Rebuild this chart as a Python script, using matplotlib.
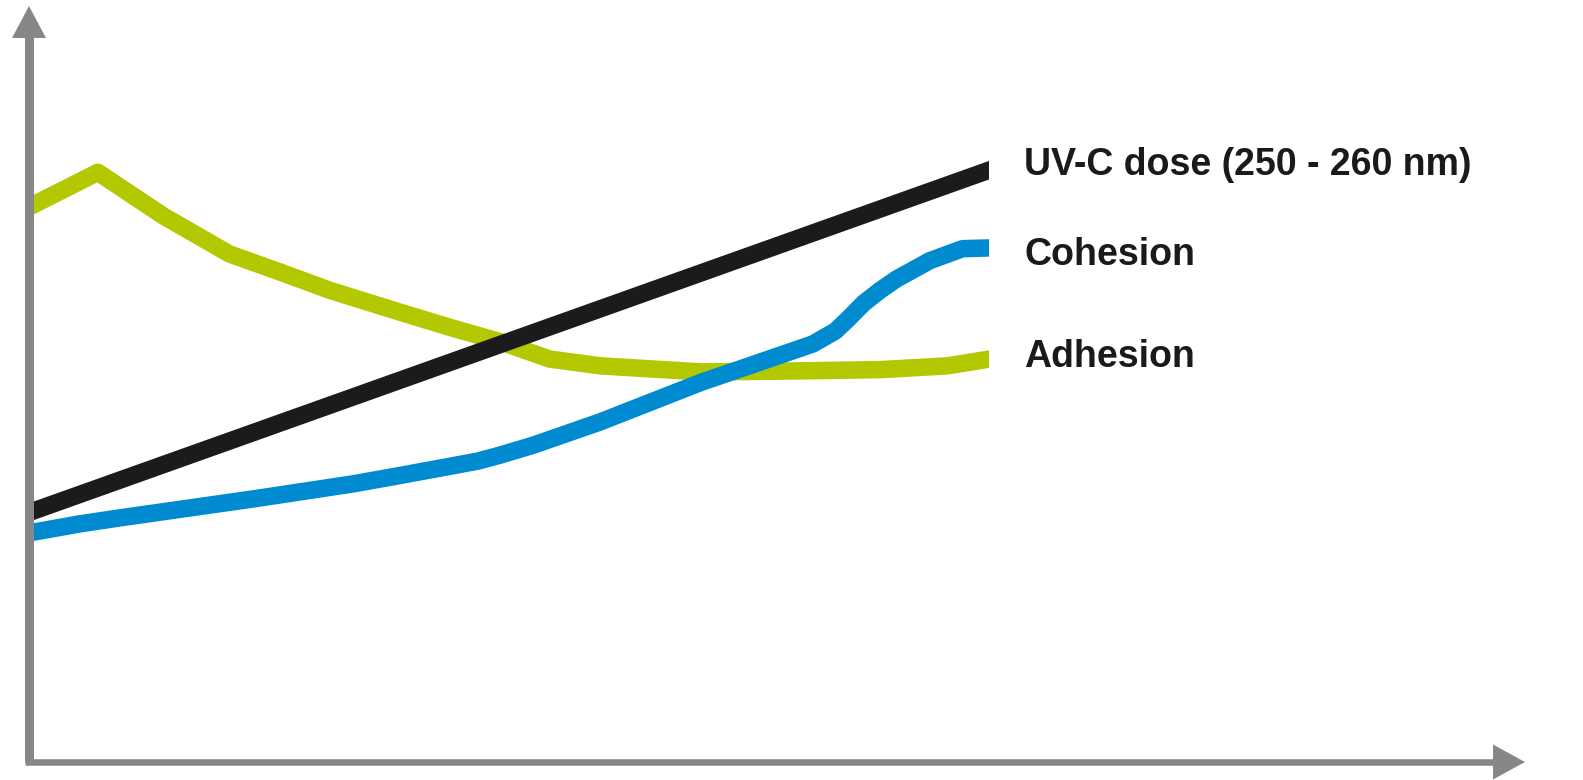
import matplotlib
matplotlib.use("Agg")
import matplotlib.pyplot as plt
from matplotlib.patches import Polygon, Rectangle
from matplotlib import font_manager

# ---- data (arbitrary units) ----
dose_x = [0.0, 64.2]
dose_y = [33.0, 78.3]

cohesion_x = [0.0, 3.4, 6.1, 15.0, 21.7, 24.8, 28.1, 30.0, 31.5, 33.7, 38.2,
              44.9, 52.4, 53.9, 54.7, 55.8, 56.9, 58.0, 60.2, 62.4, 64.2]
cohesion_y = [30.3, 31.5, 32.3, 34.8, 36.8, 37.9, 39.1, 39.8, 40.6, 41.9, 45.0,
              50.2, 55.3, 57.0, 58.5, 60.7, 62.4, 63.9, 66.3, 67.9, 68.0]

adhesion_x = [0.0, 4.6, 9.0, 13.4, 16.8, 20.1, 24.8, 28.3, 31.5, 34.8, 38.2,
              44.9, 50.2, 56.9, 61.4, 64.2]
adhesion_y = [73.4, 78.0, 72.2, 67.2, 64.8, 62.4, 59.5, 57.4, 55.6, 53.3, 52.4,
              51.6, 51.7, 51.9, 52.4, 53.3]

labels = ["UV-C dose (250 - 260 nm)", "Cohesion", "Adhesion"]

# ---- style ----
W, H, DPI = 1583, 780, 100
X0_PX, Y0_PX = 29, 762          # origin in pixels (from top-left)
PX_X, PX_Y = 14.96, 7.56        # pixels per data unit
GREY = "#878787"
BLACK = "#1b1b1d"
BLUE = "#008acf"
GREEN = "#b3c800"
TEXT = "#1a1a1a"
LW = 17.5 * 72 / DPI

fig = plt.figure(figsize=(W / DPI, H / DPI), dpi=DPI)
ax = fig.add_axes([0, 0, 1, 1])
ax.set_xlim(-X0_PX / PX_X, (W - X0_PX) / PX_X)
ax.set_ylim(-(H - Y0_PX) / PX_Y, Y0_PX / PX_Y)
ax.axis("off")

clip = Rectangle((0, -10), 64.2, 200, transform=ax.transData)
for xs, ys, c, z in [(adhesion_x, adhesion_y, GREEN, 2),
                     (cohesion_x, cohesion_y, BLUE, 3),
                     (dose_x, dose_y, BLACK, 4)]:
    ln, = ax.plot(xs, ys, color=c, lw=LW, solid_capstyle="projecting",
                  solid_joinstyle="round", zorder=z)
    ln.set_clip_path(clip)

# axes with arrows
ytip = 100.0
xtip = 100.0
head_len_y = 32 / PX_Y
head_half_y = 17 / PX_X
ax.plot([0, 0], [0, ytip - head_len_y + 0.2], color=GREY, lw=9 * 72 / DPI,
        solid_capstyle="butt", zorder=6)
ax.add_patch(Polygon([(0, ytip), (-head_half_y, ytip - head_len_y),
                      (head_half_y, ytip - head_len_y)], closed=True,
                     facecolor=GREY, edgecolor="none", zorder=6))
head_len_x = 32 / PX_X
head_half_x = 17.5 / PX_Y
ax.plot([-4.5 / PX_X, xtip - head_len_x + 0.1], [0, 0], color=GREY,
        lw=6.5 * 72 / DPI, solid_capstyle="butt", zorder=6)
ax.add_patch(Polygon([(xtip, 0), (xtip - head_len_x, head_half_x),
                      (xtip - head_len_x, -head_half_x)], closed=True,
                     facecolor=GREY, edgecolor="none", zorder=6))

# labels
names = {f.name for f in font_manager.fontManager.ttflist}
if "Liberation Sans Narrow" in names:
    fam, fs = "Liberation Sans Narrow", 32.8
else:
    fam, fs = "Liberation Sans", 27.0
label_x = (1024 - X0_PX) / PX_X
label_y = [(Y0_PX - 175) / PX_Y, (Y0_PX - 265) / PX_Y, (Y0_PX - 367) / PX_Y]
for t, y in zip(labels, label_y):
    ax.text(label_x, y, t, fontsize=fs, fontweight="bold", family=fam,
            color=TEXT, va="baseline", ha="left", zorder=7)

fig.savefig("out.png", dpi=DPI, facecolor="white")
